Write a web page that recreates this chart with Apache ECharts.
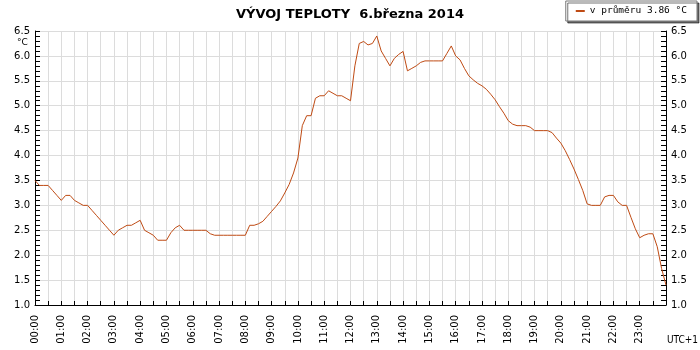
<!DOCTYPE html>
<html>
<head>
<meta charset="utf-8">
<script src="https://cdn.jsdelivr.net/npm/echarts@6/dist/echarts.min.js"></script>
<style>
  html, body { margin: 0; padding: 0; background: #fff; }
  #chart-panel { width: 700px; height: 350px; }
</style>
</head>
<body>
<div id="chart-panel"></div>
<script>
var titleText = 'VÝVOJ TEPLOTY  6.března 2014';
var seriesName = 'v průměru 3.86 °C';
var stepMinutes = 10;
// teplota po 10 minutach, 00:00 .. 24:00
var temps = [
    3.5, 3.4, 3.4, 3.4, 3.3, 3.2,
    3.1, 3.2, 3.2, 3.1, 3.05, 3.0,
    3.0, 2.9, 2.8, 2.7, 2.6, 2.5,
    2.4, 2.5, 2.55, 2.6, 2.6, 2.65,
    2.7, 2.5, 2.45, 2.4, 2.3, 2.3,
    2.3, 2.45, 2.55, 2.6, 2.5, 2.5,
    2.5, 2.5, 2.5, 2.5, 2.43, 2.4,
    2.4, 2.4, 2.4, 2.4, 2.4, 2.4,
    2.4, 2.6, 2.6, 2.63, 2.68, 2.78,
    2.88, 2.98, 3.09, 3.25, 3.42, 3.65,
    3.95, 4.6, 4.8, 4.8, 5.15, 5.2,
    5.2, 5.3, 5.25, 5.2, 5.2, 5.15,
    5.1, 5.8, 6.25, 6.29, 6.22, 6.25,
    6.4, 6.1, 5.95, 5.8, 5.95, 6.03,
    6.09, 5.7, 5.75, 5.8, 5.87, 5.9,
    5.9, 5.9, 5.9, 5.9, 6.05, 6.2,
    6.0, 5.92, 5.75, 5.6, 5.52, 5.45,
    5.4, 5.33, 5.23, 5.12, 4.98, 4.85,
    4.7, 4.63, 4.6, 4.6, 4.6, 4.57,
    4.5, 4.5, 4.5, 4.5, 4.46, 4.35,
    4.25, 4.1, 3.92, 3.73, 3.52, 3.3,
    3.03, 3.0, 3.0, 3.0, 3.17, 3.2,
    3.2, 3.07, 3.0, 3.0, 2.76, 2.53,
    2.35, 2.4, 2.43, 2.43, 2.17, 1.73,
    1.4
];

var myChart = echarts.init(document.getElementById('chart-panel'));

var lineData = temps.map(function (v, i) {
    return [i * stepMinutes / 60, v];
});

function hourLabel(val) {
    if (Math.abs(val - Math.round(val)) > 0.01 || val >= 24) return '';
    var h = Math.round(val);
    return (h < 10 ? '0' : '') + h + ':00';
}

var yAxisBase = {
    type: 'value',
    min: 1,
    max: 6.5,
    interval: 0.5,
    axisLine: { show: true, lineStyle: { color: '#000', width: 1 } },
    axisTick: { show: true, inside: true, length: 5, lineStyle: { color: '#000' } },
    minorTick: { show: true, splitNumber: 5, length: 5, lineStyle: { color: '#000' } },
    axisLabel: {
        color: '#000',
        fontFamily: 'DejaVu Sans',
        fontSize: 10,
        margin: 5,
        formatter: function (v) { return v.toFixed(1); }
    }
};

myChart.setOption({
    backgroundColor: '#fff',
    animation: false,
    title: {
        text: titleText,
        left: 'center',
        top: 3,
        textStyle: {
            color: '#000',
            fontFamily: 'DejaVu Sans',
            fontWeight: 'bold',
            fontSize: 13
        }
    },
    legend: {
        right: 3,
        top: 1,
        padding: [5, 10, 5, 10],
        backgroundColor: '#fff',
        borderColor: '#777',
        borderWidth: 1,
        shadowColor: 'rgba(0,0,0,0.55)',
        shadowOffsetX: 2,
        shadowOffsetY: 2,
        shadowBlur: 0,
        itemWidth: 9,
        itemHeight: 2,
        icon: 'rect',
        data: [seriesName],
        textStyle: { color: '#000', fontFamily: 'DejaVu Sans Mono', fontSize: 9.5 }
    },
    grid: { left: 35, right: 34, top: 31, bottom: 45 },
    graphic: [
        {
            type: 'text', left: 17, top: 38,
            style: { text: '°C', fill: '#000', font: '9px DejaVu Sans' }
        },
        {
            type: 'text', right: 2, bottom: 5,
            style: { text: 'UTC+1', fill: '#000', font: '10px DejaVu Sans Condensed' }
        }
    ],
    xAxis: {
        type: 'value',
        min: 0,
        max: 24,
        interval: 0.5,
        axisLine: { show: true, onZero: false, lineStyle: { color: '#000', width: 1 } },
        axisTick: { show: true, inside: true, length: 4, lineStyle: { color: '#000' } },
        splitLine: { show: true, lineStyle: { color: '#dcdcdc', width: 1 } },
        axisLabel: {
            rotate: 90,
            color: '#000',
            fontFamily: 'DejaVu Sans',
            fontSize: 10,
            margin: 10,
            showMaxLabel: false,
            formatter: hourLabel
        }
    },
    yAxis: [
        Object.assign({}, yAxisBase, {
            position: 'left',
            splitLine: { show: true, lineStyle: { color: '#dcdcdc', width: 1 } }
        }),
        Object.assign({}, yAxisBase, {
            position: 'right',
            splitLine: { show: false }
        })
    ],
    series: [
        {
            name: seriesName,
            type: 'line',
            yAxisIndex: 0,
            showSymbol: false,
            symbol: 'none',
            data: lineData,
            itemStyle: { color: '#bf4b14' },
            lineStyle: { color: '#bf4b14', width: 1 }
        }
    ]
});
</script>
</body>
</html>
